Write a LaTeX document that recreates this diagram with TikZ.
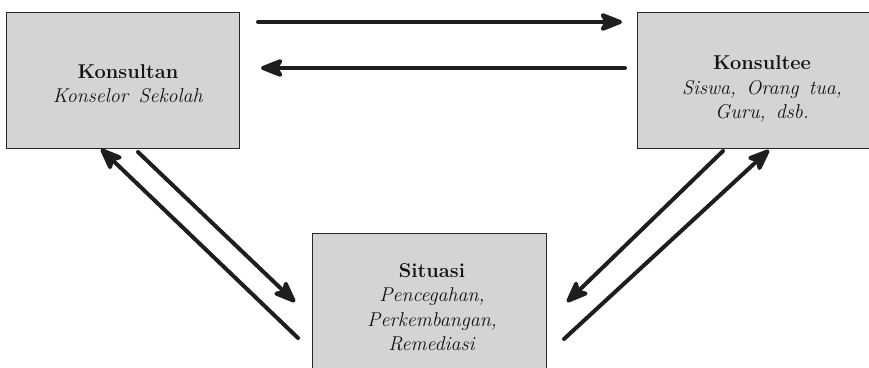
\documentclass[tikz,border=0pt]{standalone}
\usepackage{fontspec}
\usetikzlibrary{arrows.meta}
\definecolor{boxgray}{RGB}{211,212,214}
\definecolor{boxline}{RGB}{40,40,40}
\definecolor{arrowcol}{RGB}{30,30,30}
\definecolor{txt}{RGB}{20,20,20}
\tikzset{
  box/.style={draw=boxline, line width=1pt, fill=boxgray, rectangle, inner sep=0pt},
  lbl/.style={align=center, text=txt, font=\fontsize{20}{24.5}\selectfont, inner sep=0pt},
  conn/.style={draw=arrowcol, line width=4pt, line cap=round,
    -{Stealth[length=27pt,width=21pt,inset=6pt,round]}},
}
\begin{document}
\begin{tikzpicture}[x=1pt,y=-1pt]
\useasboundingbox (0,0) rectangle (869,367);
\clip (0,0) rectangle (869,367);
% boxes
\node[box, minimum width=233pt, minimum height=136pt] (kl) at (122.5,80) {};
\node[box, minimum width=232pt, minimum height=136pt] (ke) at (753,80) {};
\node[box, minimum width=234pt, minimum height=160pt] (si) at (429,313) {};
% texts
\node[lbl] (tkl) at (128,84) {\textbf{Konsultan}\\\textit{Konselor\ \,Sekolah}};
\node[lbl] (tke) at (762,89) {\textbf{Konsultee}\\\textit{Siswa,\ \,Orang\ \,tua,}\\\textit{Guru,\ \,dsb.}};
\node[lbl] (tsi) at (432,307) {\textbf{Situasi}\\\textit{Pencegahan,}\\\textit{Perkembangan,}\\\textit{Remediasi}};
% connector ends
\coordinate (a1s) at (258,22);  \coordinate (a1e) at (622,22);
\coordinate (a2s) at (625,68);  \coordinate (a2e) at (261,68);
\coordinate (b1s) at (138,152); \coordinate (b1e) at (295,302);
\coordinate (b2s) at (298,338); \coordinate (b2e) at (101,149);
\coordinate (c1s) at (723,151); \coordinate (c1e) at (567,302);
\coordinate (c2s) at (564,339); \coordinate (c2e) at (769,150);
% connectors
\draw[conn] (a1s) -- (a1e);
\draw[conn] (a2s) -- (a2e);
\draw[conn] (b1s) -- (b1e);
\draw[conn] (b2s) -- (b2e);
\draw[conn] (c1s) -- (c1e);
\draw[conn] (c2s) -- (c2e);
\end{tikzpicture}
\end{document}
